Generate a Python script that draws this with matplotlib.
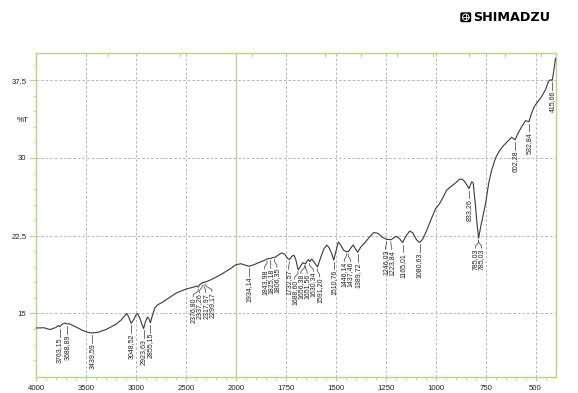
import numpy as np
import matplotlib
matplotlib.use("Agg")
import matplotlib.pyplot as plt
from matplotlib.ticker import FixedLocator, FuncFormatter
from matplotlib.patches import FancyBboxPatch, Ellipse
from matplotlib.lines import Line2D

# spectrum (cm-1, %T)
wavenumber = [4000, 3920, 3860, 3800, 3775, 3763, 3740, 3710, 3688, 3670, 3600, 3530, 3480, 3440,
              3380, 3300, 3200, 3150, 3110, 3090, 3070, 3048, 3025, 3000, 2985, 2960, 2940, 2923,
              2905, 2885, 2870, 2855, 2835, 2810, 2780, 2740, 2700, 2600, 2500, 2420, 2390, 2376,
              2360, 2337, 2325, 2318, 2308, 2299, 2250, 2150, 2050, 2000, 1975, 1950, 1934, 1910,
              1880, 1860, 1844, 1835, 1825, 1815, 1806, 1790, 1770, 1755, 1740, 1732, 1718, 1708,
              1700, 1688, 1675, 1665, 1656, 1651, 1642, 1636, 1630, 1620, 1610, 1591, 1575, 1560,
              1545, 1535, 1520, 1510, 1500, 1487, 1475, 1460, 1446, 1441, 1437, 1425, 1413, 1400,
              1390, 1375, 1355, 1330, 1310, 1290, 1270, 1246, 1235, 1224, 1210, 1195, 1180, 1165,
              1150, 1130, 1115, 1095, 1080, 1065, 1045, 1020, 1000, 980, 960, 945, 920, 900, 880,
              865, 850, 833, 820, 812, 800, 792, 785, 775, 765, 750, 735, 720, 700, 680, 660, 640,
              620, 602, 590, 570, 550, 533, 520, 505, 490, 470, 450, 435, 425, 416, 408, 400]
transmittance = [13.6, 13.62, 13.45, 13.65, 13.85, 13.72, 13.95, 14.08, 13.98, 14.02, 13.7, 13.35,
                 13.18, 13.12, 13.18, 13.45, 13.95, 14.35, 14.8, 15.0, 14.6, 14.05, 14.35, 14.85,
                 15.0, 14.55, 13.95, 13.55, 14.2, 14.65, 14.5, 14.1, 14.8, 15.55, 15.85, 16.05,
                 16.3, 16.95, 17.35, 17.55, 17.65, 17.55, 17.8, 17.95, 18.02, 17.98, 18.05, 18.05,
                 18.25, 18.75, 19.35, 19.7, 19.8, 19.65, 19.55, 19.7, 19.95, 20.1, 20.25, 20.3,
                 20.3, 20.4, 20.4, 20.6, 20.85, 20.7, 20.3, 20.2, 20.55, 20.6, 20.2, 19.2, 19.6,
                 19.9, 19.8, 19.8, 20.1, 20.2, 20.0, 20.25, 20.0, 19.5, 20.4, 21.2, 21.6, 21.4,
                 20.8, 20.15, 20.9, 21.9, 21.6, 21.1, 20.95, 21.0, 20.95, 21.3, 21.6, 21.2, 20.9,
                 21.4, 21.8, 22.4, 22.8, 22.75, 22.4, 22.15, 22.15, 22.1, 22.3, 22.45, 22.2, 21.85,
                 22.4, 22.95, 22.8, 22.1, 21.85, 22.15, 23.0, 24.2, 25.1, 25.6, 26.3, 26.9, 27.3,
                 27.6, 27.95, 27.95, 27.6, 27.05, 27.7, 27.6, 25.3, 23.5, 22.25, 23.3, 24.2, 25.6,
                 27.5, 28.8, 30.0, 30.7, 31.2, 31.6, 32.0, 31.75, 32.3, 33.0, 33.6, 33.5, 34.3,
                 35.0, 35.4, 35.9, 36.6, 37.4, 37.55, 37.5, 38.5, 39.6]

peak_wn = [3763.15, 3688.89, 3439.59, 3048.52, 2923.63, 2855.15, 2376.80, 2337.26, 2317.97,
           2299.17, 1934.14, 1843.98, 1825.18, 1806.35, 1732.57, 1688.60, 1656.38, 1651.56,
           1630.34, 1591.20, 1510.76, 1446.14, 1437.46, 1389.72, 1246.03, 1223.84, 1165.01,
           1080.63, 833.26, 785.03, 785.03, 602.28, 532.84, 415.66]
peak_text = [f"{p:.2f}".replace(".", ",") for p in peak_wn]

x_major = [4000, 3500, 3000, 2500, 2000, 1750, 1500, 1250, 1000, 750, 500]
y_major = [15, 22.5, 30, 37.5]

FRAME = "#b3d97a"
GRID = "#a8a8a8"
FONT = "Liberation Sans"


# Shimadzu style axis: 2x expanded below 2000 cm-1
def fwd(w):
    w = np.asarray(w, dtype=float)
    return np.where(w >= 2000, w, 2 * w - 2000)


def inv(t):
    t = np.asarray(t, dtype=float)
    return np.where(t >= 2000, t, (t + 2000) / 2)


def spread(xs, gap):
    """push crowded label positions apart, keeping each group centred"""
    groups = [[x] for x in xs]
    changed = True
    while changed:
        changed = False
        out = []
        for g in groups:
            if out:
                prev = out[-1]
                hi = np.mean(prev) + (len(prev) - 1) / 2 * gap
                lo = np.mean(g) - (len(g) - 1) / 2 * gap
                if lo - hi < gap:
                    out[-1] = prev + g
                    changed = True
                    continue
            out.append(g)
        groups = out
    pos = []
    for g in groups:
        c = np.mean(g)
        pos += list(c + (np.arange(len(g)) - (len(g) - 1) / 2) * gap)
    return pos


fig = plt.figure(figsize=(5.78, 3.93), dpi=100)
ax = fig.add_axes([36 / 578, 16.3 / 393, 519.5 / 578, 323.4 / 393])
ax.set_xscale("function", functions=(fwd, inv))
ax.set_xlim(4000, 400)
ax.set_ylim(8.9, 40.1)

ax.plot(wavenumber, transmittance, color="#3a3a3a", lw=0.8, zorder=3)

ax.grid(True, which="major", color=GRID, ls=(0, (3, 2.5)), lw=0.6)
ax.axvline(2000, color=FRAME, lw=0.9, zorder=2)
for s in ax.spines.values():
    s.set_color(FRAME)
    s.set_linewidth(1.0)

ax.xaxis.set_major_locator(FixedLocator(x_major))
minor_x = [w for w in list(range(3900, 2000, -100)) + list(range(1950, 400, -50)) if w not in x_major]
ax.xaxis.set_minor_locator(FixedLocator(minor_x))
ax.xaxis.set_major_formatter(FuncFormatter(lambda v, _: f"{v:.0f}"))
ax.yaxis.set_major_locator(FixedLocator(y_major))
ax.yaxis.set_minor_locator(FixedLocator(np.arange(10.5, 40.1, 1.5)))
ax.yaxis.set_major_formatter(FuncFormatter(lambda v, _: f"{v:g}".replace(".", ",")))

ax.tick_params(axis="x", which="both", direction="out", colors=FRAME,
               labelcolor="#222222", labelsize=5.6, pad=3)
ax.tick_params(axis="x", which="major", length=3)
ax.tick_params(axis="x", which="minor", length=2.2)
ax.tick_params(axis="y", which="major", direction="out", length=5, colors=FRAME,
               labelcolor="#222222", labelsize=5.6, pad=2)
ax.tick_params(axis="y", which="minor", direction="out", length=2, colors=FRAME)
for lab in ax.get_xticklabels() + ax.get_yticklabels():
    lab.set_fontfamily(FONT)

# short inward marks on the top edge
top = ax.secondary_xaxis("top")
top.xaxis.set_major_locator(FixedLocator(x_major))
top.tick_params(direction="in", length=3, colors=FRAME, labeltop=False)
top.spines["top"].set_visible(False)

ax.text(-0.026, 33.6, "%T", transform=ax.get_yaxis_transform(), ha="center", va="center",
        fontsize=5.8, family=FONT, color="#222222")

# peak labels
order = np.argsort(fwd(peak_wn))
tx = fwd(np.array(peak_wn)[order])
gap = 6.2 * 5200 / 519.5
lx = spread(list(tx), gap)
for k, i in enumerate(order):
    w = peak_wn[i]
    t = np.interp(w, wavenumber[::-1], transmittance[::-1])
    wl = float(inv(lx[k]))
    ax.plot([w, w, wl, wl], [t - 0.2, t - 0.4, t - 0.75, t - 0.95],
            color="#3a3a3a", lw=0.5, zorder=3)
    ax.text(wl, t - 1.0, peak_text[i], rotation=90, ha="center", va="top",
            fontsize=5.0, family=FONT, color="#222222")

# logo
fig.patches.append(FancyBboxPatch((461 / 578, 1 - 21.5 / 393), 9.5 / 578, 8.5 / 393,
                                  boxstyle="round,pad=0,rounding_size=0.002",
                                  transform=fig.transFigure, fc="black", ec="black"))
fig.patches.append(Ellipse((465.8 / 578, 1 - 17.2 / 393), 6.5 / 578, 6.5 / 393,
                           transform=fig.transFigure, fc="black", ec="white", lw=0.7))
fig.lines.append(Line2D([462.6 / 578, 469 / 578], [1 - 17.2 / 393] * 2,
                        transform=fig.transFigure, color="white", lw=0.6))
fig.lines.append(Line2D([465.8 / 578] * 2, [1 - 14 / 393, 1 - 20.4 / 393],
                        transform=fig.transFigure, color="white", lw=0.6))
fig.text(473 / 578, 1 - 17.2 / 393, "SHIMADZU", ha="left", va="center", fontsize=9.2,
         weight="bold", family="DejaVu Sans", color="black")

fig.savefig("out.png", dpi=100)
